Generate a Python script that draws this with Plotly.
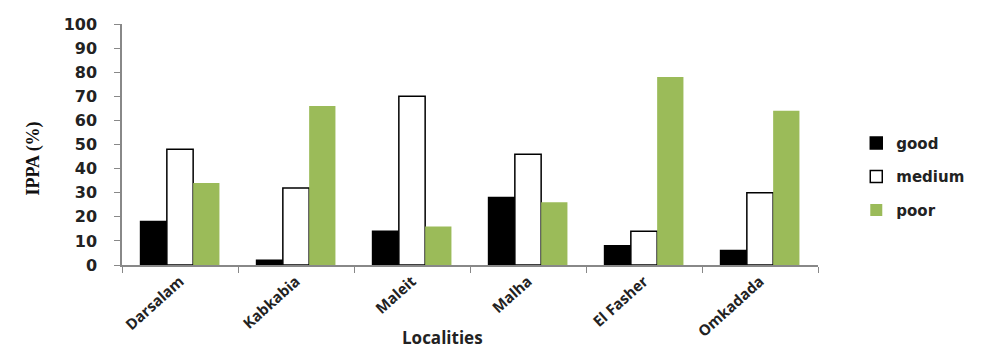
import plotly.graph_objects as go

localities = ["Darsalam", "Kabkabia", "Maleit", "Malha", "El Fasher", "Omkadada"]
good = [18, 2, 14, 28, 8, 6]
medium = [48, 32, 70, 46, 14, 30]
poor = [34, 66, 16, 26, 78, 64]
y_ticks = [0, 10, 20, 30, 40, 50, 60, 70, 80, 90, 100]

fig = go.Figure()
fig.add_bar(name="good", x=localities, y=good, legendgroup="g",
            marker=dict(color="#000000", line=dict(color="#000000", width=1.5)))
fig.add_bar(name="medium", x=localities, y=medium, legendgroup="m",
            marker=dict(color="#ffffff", line=dict(color="#000000", width=1.5)))
fig.add_bar(name="poor", x=localities, y=poor, legendgroup="p",
            marker=dict(color="#9bbb59", line=dict(width=0)))

fig.update_layout(
    width=981, height=349,
    margin=dict(l=122, r=157, t=24, b=84),
    paper_bgcolor="white", plot_bgcolor="white",
    barmode="group", bargap=0.32, bargroupgap=0,
    showlegend=True,
    legend=dict(x=1.055, y=0.366, xanchor="left", yanchor="middle",
                traceorder="grouped", tracegroupgap=11,
                font=dict(family="DejaVu Sans", size=15, color="#222", weight="bold"),
                itemwidth=30),
    font=dict(family="DejaVu Sans", color="#222"),
)

fig.update_xaxes(
    automargin=False,
    showline=True, linecolor="#888", linewidth=1.5,
    ticks="outside", tickson="boundaries", ticklen=6, tickcolor="#888",
    tickangle=-42,
    tickfont=dict(family="Open Sans", size=15, color="#222", weight="bold"),
    showgrid=False,
)
fig.update_yaxes(
    automargin=False,
    range=[0, 100], tickvals=y_ticks,
    showline=True, linecolor="#888", linewidth=1.5,
    ticks="outside", ticklen=6, tickcolor="#888",
    ticklabelstandoff=14,
    tickfont=dict(family="DejaVu Sans", size=16, color="#222", weight="bold"),
    showgrid=False, zeroline=False,
)

fig.add_annotation(text="<b>IPPA (%)</b>", xref="paper", yref="paper",
                   x=-0.145, y=0.44, textangle=-90, showarrow=False,
                   font=dict(family="Liberation Serif", size=18, color="#111"))
fig.add_annotation(text="<b>Localities</b>", xref="paper", yref="paper",
                   x=0.46, y=-0.3, yanchor="middle", showarrow=False,
                   font=dict(family="Open Sans", size=17, color="#222"))

fig.write_html("out.html")
